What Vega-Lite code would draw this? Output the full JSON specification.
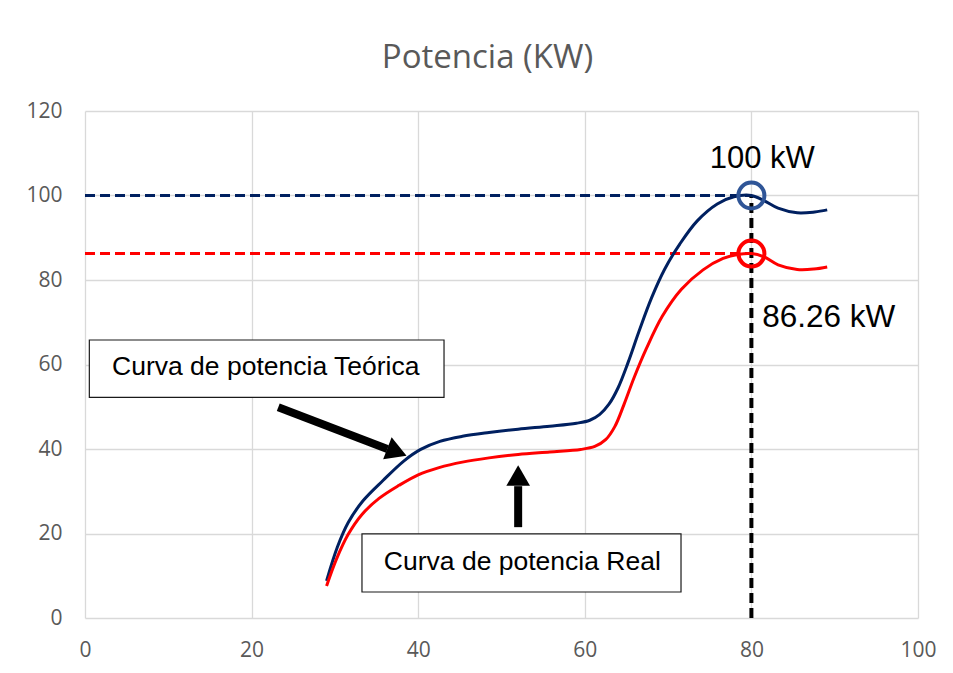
{
  "$schema": "https://vega.github.io/schema/vega-lite/v6.json",
  "width": 833,
  "height": 507,
  "autosize": "none",
  "padding": {"left": 85, "top": 111, "right": 35, "bottom": 55},
  "background": "white",
  "title": {
    "text": "Potencia (KW)",
    "font": "Open Sans",
    "fontSize": 33,
    "fontWeight": "normal",
    "color": "#595959",
    "anchor": "middle",
    "offset": 25,
    "dx": -14
  },
  "config": {
    "view": {"stroke": null},
    "axis": {
      "domain": false,
      "ticks": false,
      "grid": true,
      "gridColor": "#d9d9d9",
      "gridWidth": 1.3,
      "labelFont": "Open Sans",
      "labelFontSize": 21,
      "labelColor": "#595959",
      "labelFlush": false,
      "title": null
    }
  },
  "datasets": {
    "curves": [
      {"x": 29.0, "y": 8.8, "serie": "Teórica"},
      {"x": 30.3, "y": 16.8, "serie": "Teórica"},
      {"x": 31.6, "y": 22.6, "serie": "Teórica"},
      {"x": 33.4, "y": 27.8, "serie": "Teórica"},
      {"x": 35.8, "y": 32.6, "serie": "Teórica"},
      {"x": 38.3, "y": 37.2, "serie": "Teórica"},
      {"x": 40.3, "y": 39.9, "serie": "Teórica"},
      {"x": 42.6, "y": 41.8, "serie": "Teórica"},
      {"x": 45.3, "y": 43.0, "serie": "Teórica"},
      {"x": 48.5, "y": 43.9, "serie": "Teórica"},
      {"x": 52.0, "y": 44.7, "serie": "Teórica"},
      {"x": 55.8, "y": 45.4, "serie": "Teórica"},
      {"x": 59.0, "y": 46.1, "serie": "Teórica"},
      {"x": 60.6, "y": 46.8, "serie": "Teórica"},
      {"x": 61.8, "y": 48.2, "serie": "Teórica"},
      {"x": 62.9, "y": 50.6, "serie": "Teórica"},
      {"x": 64.0, "y": 54.5, "serie": "Teórica"},
      {"x": 65.2, "y": 60.5, "serie": "Teórica"},
      {"x": 66.5, "y": 67.8, "serie": "Teórica"},
      {"x": 68.0, "y": 75.7, "serie": "Teórica"},
      {"x": 69.6, "y": 82.6, "serie": "Teórica"},
      {"x": 71.4, "y": 88.5, "serie": "Teórica"},
      {"x": 73.5, "y": 94.0, "serie": "Teórica"},
      {"x": 75.9, "y": 98.0, "serie": "Teórica"},
      {"x": 77.9, "y": 99.7, "serie": "Teórica"},
      {"x": 80.0, "y": 100.0, "serie": "Teórica"},
      {"x": 81.5, "y": 98.8, "serie": "Teórica"},
      {"x": 83.2, "y": 97.0, "serie": "Teórica"},
      {"x": 85.5, "y": 95.9, "serie": "Teórica"},
      {"x": 87.6, "y": 96.1, "serie": "Teórica"},
      {"x": 89.1, "y": 96.6, "serie": "Teórica"},
      {"x": 29.0, "y": 7.6, "serie": "Real"},
      {"x": 30.2, "y": 14.0, "serie": "Real"},
      {"x": 31.6, "y": 19.8, "serie": "Real"},
      {"x": 33.2, "y": 24.4, "serie": "Real"},
      {"x": 35.3, "y": 28.3, "serie": "Real"},
      {"x": 37.7, "y": 31.4, "serie": "Real"},
      {"x": 40.0, "y": 33.9, "serie": "Real"},
      {"x": 42.5, "y": 35.6, "serie": "Real"},
      {"x": 45.3, "y": 36.9, "serie": "Real"},
      {"x": 48.5, "y": 37.9, "serie": "Real"},
      {"x": 52.0, "y": 38.7, "serie": "Real"},
      {"x": 55.8, "y": 39.3, "serie": "Real"},
      {"x": 59.5, "y": 39.9, "serie": "Real"},
      {"x": 61.2, "y": 40.6, "serie": "Real"},
      {"x": 62.5, "y": 42.2, "serie": "Real"},
      {"x": 63.6, "y": 45.3, "serie": "Real"},
      {"x": 64.7, "y": 50.5, "serie": "Real"},
      {"x": 65.9, "y": 56.8, "serie": "Real"},
      {"x": 67.4, "y": 63.8, "serie": "Real"},
      {"x": 69.3, "y": 71.4, "serie": "Real"},
      {"x": 71.6, "y": 77.8, "serie": "Real"},
      {"x": 74.2, "y": 82.4, "serie": "Real"},
      {"x": 76.6, "y": 85.1, "serie": "Real"},
      {"x": 78.5, "y": 86.1, "serie": "Real"},
      {"x": 80.0, "y": 86.26, "serie": "Real"},
      {"x": 81.5, "y": 85.5, "serie": "Real"},
      {"x": 83.2, "y": 83.6, "serie": "Real"},
      {"x": 85.5, "y": 82.5, "serie": "Real"},
      {"x": 87.5, "y": 82.6, "serie": "Real"},
      {"x": 89.1, "y": 83.1, "serie": "Real"}
    ],
    "peaks": [
      {"serie": "Teórica", "x0": 0, "x": 80, "y": 100},
      {"serie": "Real", "x0": 0, "x": 80, "y": 86.26}
    ],
    "boxes": [
      {"x1": 0.52, "x2": 43.1, "y1": 52.2, "y2": 65.8, "label": "Curva de potencia Teórica", "cx": 21.7, "cy": 59.4},
      {"x1": 33.25, "x2": 71.55, "y1": 6.15, "y2": 19.9, "label": "Curva de potencia Real", "cx": 52.5, "cy": 13.3}
    ],
    "shafts": [
      {"x1": 23.2, "y1": 49.9, "x2": 36.3, "y2": 40.0},
      {"x1": 52.0, "y1": 21.5, "x2": 52.0, "y2": 31.2}
    ],
    "heads": [
      {"x": 37.45, "y": 39.3, "angle": 111},
      {"x": 52.0, "y": 33.7, "angle": 0}
    ]
  },
  "encoding": {
    "x": {"type": "quantitative", "scale": {"domain": [0, 100], "nice": false}, "axis": {"values": [0, 20, 40, 60, 80, 100], "labelPadding": 21}},
    "y": {"type": "quantitative", "scale": {"domain": [0, 120], "nice": false}, "axis": {"values": [0, 20, 40, 60, 80, 100, 120], "labelPadding": 23}}
  },
  "layer": [
    {
      "data": {"name": "peaks"},
      "mark": {"type": "rule", "strokeWidth": 3, "strokeDash": [10, 5]},
      "encoding": {
        "x": {"field": "x0", "type": "quantitative"},
        "x2": {"field": "x"},
        "y": {"field": "y", "type": "quantitative"},
        "color": {"field": "serie", "type": "nominal", "scale": {"domain": ["Teórica", "Real"], "range": ["#002060", "#FF0000"]}, "legend": null}
      }
    },
    {
      "data": {"values": [{"x": 80, "y0": 0, "y1": 100}]},
      "mark": {"type": "rule", "strokeWidth": 4, "strokeDash": [10, 5], "color": "black"},
      "encoding": {
        "x": {"field": "x", "type": "quantitative"},
        "y": {"field": "y0", "type": "quantitative"},
        "y2": {"field": "y1"}
      }
    },
    {
      "data": {"name": "curves"},
      "mark": {"type": "line", "strokeWidth": 3, "interpolate": "catmull-rom"},
      "encoding": {
        "x": {"field": "x", "type": "quantitative"},
        "y": {"field": "y", "type": "quantitative"},
        "color": {"field": "serie", "type": "nominal", "scale": {"domain": ["Teórica", "Real"], "range": ["#002060", "#FF0000"]}, "legend": null}
      }
    },
    {
      "data": {"name": "peaks"},
      "mark": {"type": "point", "shape": "circle", "filled": false, "size": 676, "strokeWidth": 4, "opacity": 1},
      "encoding": {
        "x": {"field": "x", "type": "quantitative"},
        "y": {"field": "y", "type": "quantitative"},
        "stroke": {"field": "serie", "type": "nominal", "scale": {"domain": ["Teórica", "Real"], "range": ["#2F5597", "#FF0000"]}, "legend": null}
      }
    },
    {
      "data": {"name": "boxes"},
      "mark": {"type": "rect", "fill": "white", "stroke": "#1a1a1a", "strokeWidth": 1.2},
      "encoding": {
        "x": {"field": "x1", "type": "quantitative"},
        "x2": {"field": "x2"},
        "y": {"field": "y1", "type": "quantitative"},
        "y2": {"field": "y2"}
      }
    },
    {
      "data": {"name": "boxes"},
      "mark": {"type": "text", "font": "Liberation Sans", "fontSize": 26.5, "color": "black", "align": "center", "baseline": "middle"},
      "encoding": {
        "x": {"field": "cx", "type": "quantitative"},
        "y": {"field": "cy", "type": "quantitative"},
        "text": {"field": "label"}
      }
    },
    {
      "data": {"name": "shafts"},
      "mark": {"type": "rule", "strokeWidth": 8, "color": "black", "strokeCap": "butt"},
      "encoding": {
        "x": {"field": "x1", "type": "quantitative"},
        "y": {"field": "y1", "type": "quantitative"},
        "x2": {"field": "x2"},
        "y2": {"field": "y2"}
      }
    },
    {
      "data": {"name": "heads"},
      "mark": {"type": "point", "shape": "triangle-up", "filled": true, "size": 560, "color": "black", "opacity": 1},
      "encoding": {
        "x": {"field": "x", "type": "quantitative"},
        "y": {"field": "y", "type": "quantitative"},
        "angle": {"field": "angle", "type": "quantitative", "scale": null}
      }
    },
    {
      "data": {"values": [{"x": 81.3, "y": 108.6, "label": "100 kW"}]},
      "mark": {"type": "text", "font": "Liberation Sans", "fontSize": 31, "color": "black", "align": "center", "baseline": "middle"},
      "encoding": {
        "x": {"field": "x", "type": "quantitative"},
        "y": {"field": "y", "type": "quantitative"},
        "text": {"field": "label"}
      }
    },
    {
      "data": {"values": [{"x": 81.3, "y": 71.0, "label": "86.26 kW"}]},
      "mark": {"type": "text", "font": "Liberation Sans", "fontSize": 31.5, "color": "black", "align": "left", "baseline": "middle"},
      "encoding": {
        "x": {"field": "x", "type": "quantitative"},
        "y": {"field": "y", "type": "quantitative"},
        "text": {"field": "label"}
      }
    }
  ]
}
